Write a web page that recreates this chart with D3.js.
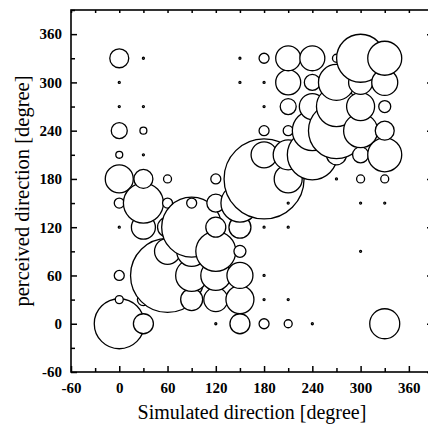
<!DOCTYPE html>
<html>
<head>
<meta charset="utf-8">
<script src="https://cdn.jsdelivr.net/npm/d3@7"></script>
<style>
  body { margin: 0; background: #fff; }
  svg { display: block; }
</style>
</head>
<body>
<div id="chart"></div>
<script>
// simulated direction (deg), perceived direction (deg), number of responses
var simulated = [
    0, 0, 0, 0, 0, 0, 0, 0, 0, 0, 0,
    30, 30, 30, 30, 30, 30, 30, 30, 30,
    60, 60, 60, 60, 60,
    90, 90, 90, 90, 90,
    120, 120, 120, 120, 120, 120, 120,
    150, 150, 150, 150, 150, 150, 150, 150,
    180, 180, 180, 180, 180, 180, 180, 180, 180, 180,
    210, 210, 210, 210, 210, 210, 210, 210, 210, 210,
    240, 240, 240, 240, 240, 240,
    270, 270, 270, 270, 270, 270,
    300, 300, 300, 300, 300, 300, 300, 300,
    330, 330, 330, 330, 330, 330, 330, 330
];
var perceived = [
    0, 30, 60, 120, 150, 180, 210, 240, 270, 300, 330,
    0, 30, 120, 150, 180, 210, 240, 270, 330,
    60, 90, 120, 150, 180,
    30, 60, 90, 120, 150,
    0, 30, 60, 90, 120, 150, 180,
    0, 30, 60, 90, 120, 150, 300, 330,
    0, 30, 60, 120, 180, 210, 240, 270, 300, 330,
    0, 30, 120, 150, 180, 210, 240, 270, 300, 330,
    0, 210, 240, 270, 300, 330,
    180, 210, 240, 270, 300, 330,
    90, 150, 180, 210, 240, 270, 300, 330,
    0, 150, 180, 210, 240, 270, 300, 330
];
var counts = [
    625, 16, 25, 1, 25, 196, 12, 64, 1, 1, 90,
    100, 36, 144, 400, 90, 1, 12, 1, 1,
    1369, 169, 100, 25, 16,
    121, 256, 225, 900, 25,
    1, 144, 225, 400, 100, 81, 25,
    100, 196, 169, 36, 121, 361, 1, 1,
    25, 1, 1, 1, 1600, 169, 25, 1, 1, 25,
    16, 1, 1, 1, 196, 225, 25, 64, 156, 156,
    1, 625, 400, 169, 64, 156,
    1, 100, 784, 400, 324, 16,
    1, 1, 16, 64, 289, 196, 144, 576,
    225, 1, 16, 289, 90, 36, 169, 289
];

var majorTicks = [-60, 0, 60, 120, 180, 240, 300, 360];
var minorTicks = [-30, 30, 90, 150, 210, 270, 330, 390];

var width = 428, height = 428;
var plotLeft = 71, plotRight = 433, plotTop = 10, plotBottom = 372;
var serif = '"Liberation Serif", "Times New Roman", serif';

var x = d3.scaleLinear().domain([-60, 390]).range([plotLeft, plotRight]);
var y = d3.scaleLinear().domain([-60, 390]).range([plotBottom, plotTop]);
var r = d3.scaleSqrt().domain([0, 1600]).range([0, 40]);

// plain hyphen for negatives, like the original
var plainNumber = function(d) { return String(d); };

var points = simulated.map(function(s, i) {
    return { sim: s, per: perceived[i], n: counts[i] };
});

var svg = d3.select('#chart').append('svg')
    .attr('width', width)
    .attr('height', height);

// bubbles, drawn column by column so later ones sit on top
svg.append('g').selectAll('circle')
    .data(points)
    .enter().append('circle')
    .attr('cx', function(d) { return x(d.sim); })
    .attr('cy', function(d) { return y(d.per); })
    .attr('r', function(d) { return r(d.n); })
    .style('fill', '#fff')
    .style('stroke', '#000')
    .style('stroke-width', 1.3);

function styleAxis(g) {
    g.select('.domain').remove();
    g.selectAll('line').style('stroke', '#000').style('stroke-width', 1.5);
    g.selectAll('text')
        .style('font-family', serif)
        .style('font-weight', 'bold')
        .style('font-size', '15px')
        .style('fill', '#000');
}

// bottom
svg.append('g').attr('transform', 'translate(0,' + plotBottom + ')')
    .call(d3.axisBottom(x).tickValues(majorTicks).tickSize(-6).tickPadding(10).tickFormat(plainNumber))
    .call(styleAxis);
svg.append('g').attr('transform', 'translate(0,' + plotBottom + ')')
    .call(d3.axisBottom(x).tickValues(minorTicks).tickSize(-4).tickFormat(''))
    .call(styleAxis);

// left
svg.append('g').attr('transform', 'translate(' + plotLeft + ',0)')
    .call(d3.axisLeft(y).tickValues(majorTicks).tickSize(-6).tickPadding(9).tickFormat(plainNumber))
    .call(styleAxis);
svg.append('g').attr('transform', 'translate(' + plotLeft + ',0)')
    .call(d3.axisLeft(y).tickValues(minorTicks).tickSize(-4).tickFormat(''))
    .call(styleAxis);

// top and right, ticks only
svg.append('g').attr('transform', 'translate(0,' + plotTop + ')')
    .call(d3.axisTop(x).tickValues(majorTicks.concat(minorTicks)).tickSize(-3).tickFormat(''))
    .call(styleAxis);
svg.append('g').attr('transform', 'translate(' + plotRight + ',0)')
    .call(d3.axisRight(y).tickValues(majorTicks).tickSize(-6).tickFormat(''))
    .call(styleAxis);
svg.append('g').attr('transform', 'translate(' + plotRight + ',0)')
    .call(d3.axisRight(y).tickValues(minorTicks).tickSize(-4).tickFormat(''))
    .call(styleAxis);

svg.append('rect')
    .attr('x', plotLeft)
    .attr('y', plotTop)
    .attr('width', plotRight - plotLeft)
    .attr('height', plotBottom - plotTop)
    .style('fill', 'none')
    .style('stroke', '#000')
    .style('stroke-width', 1.6);

svg.append('text')
    .attr('x', (plotLeft + plotRight) / 2)
    .attr('y', 419)
    .attr('text-anchor', 'middle')
    .style('font-family', serif)
    .style('font-size', '20px')
    .text('Simulated direction [degree]');

svg.append('text')
    .attr('transform', 'translate(29,' + (plotTop + plotBottom) / 2 + ') rotate(-90)')
    .attr('text-anchor', 'middle')
    .style('font-family', serif)
    .style('font-size', '20.5px')
    .text('perceived direction [degree]');
</script>
</body>
</html>
